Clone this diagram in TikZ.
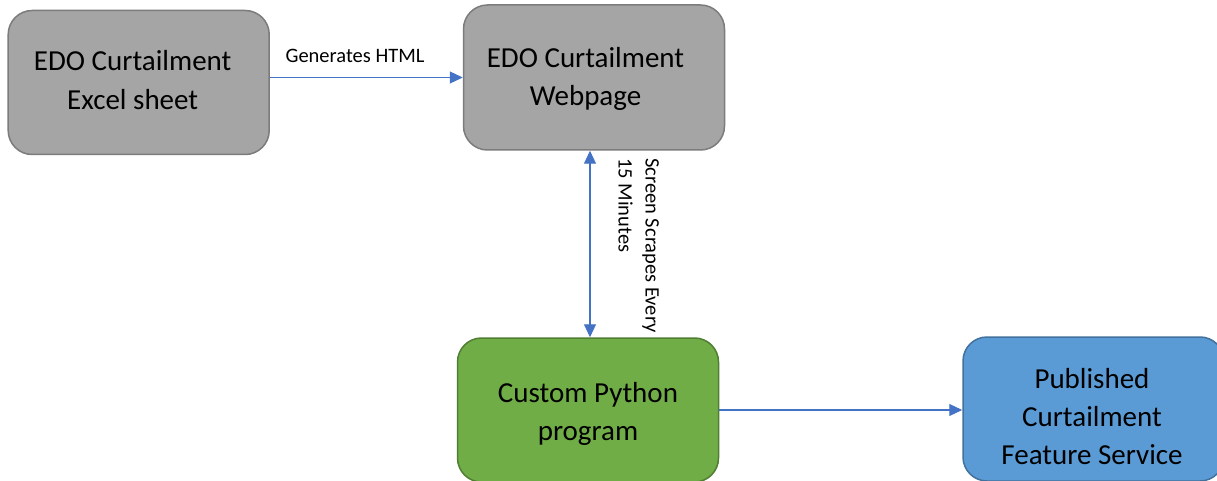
\documentclass[tikz,border=0pt]{standalone}
\usepackage{fontspec}
\setmainfont{Carlito}
\usetikzlibrary{arrows.meta}
\definecolor{grayfill}{HTML}{A5A5A5}
\definecolor{graydraw}{HTML}{7C7C7C}
\definecolor{greenfill}{HTML}{70AD47}
\definecolor{greendraw}{HTML}{507E32}
\definecolor{bluefill}{HTML}{5B9BD5}
\definecolor{bluedraw}{HTML}{41719C}
\definecolor{arrowblue}{HTML}{4472C4}
\tikzset{
  box/.style={rectangle, rounded corners=24pt, line width=1.5pt, minimum width=261pt,
    minimum height=144pt, inner sep=0pt},
  boxtext/.style={align=center, inner sep=0pt, font=\fontsize{29}{38.3}\selectfont, text=black},
  graybox/.style={box, fill=grayfill, draw=graydraw},
  greenbox/.style={box, fill=greenfill, draw=greendraw},
  bluebox/.style={box, fill=bluefill, draw=bluedraw},
  conn/.style={draw=arrowblue, line width=1.1pt, -{Triangle[width=12pt,length=13pt]}},
  conn2/.style={draw=arrowblue, line width=1.1pt, {Triangle[width=12pt,length=13pt]}-{Triangle[width=12pt,length=13pt]}},
  lbl/.style={font=\fontsize{20.5}{27}\selectfont, inner sep=0pt, text=black}
}
\begin{document}
\begin{tikzpicture}[x=1pt, y=-1pt]
\clip (0,0) rectangle (1217,481);
\fill[white] (0,0) rectangle (1217,481);
\node[graybox] (b1) at (138.7,82.5) {};
\node[boxtext] (b1t) at ([xshift=-6pt,yshift=2.5pt]b1.center) {EDO Curtailment\\Excel sheet};
\node[graybox, minimum height=145pt] (b2) at (594,77.5) {};
\node[boxtext] (b2t) at ([xshift=-8.5pt,yshift=-1.5pt]b2.center) {EDO Curtailment\\Webpage};
\node[greenbox] (b3) at (588,410) {};
\node[boxtext] (b3t) at ([yshift=-4pt]b3.center) {Custom Python\\program};
\node[bluebox] (b4) at (1093.5,409) {};
\node[boxtext] (b4t) at ([xshift=-1.5pt,yshift=-7.5pt]b4.center) {Published\\Curtailment\\Feature Service};
\draw[conn] (b1.east |- b2.west) -- (b2.west);
\node[lbl, anchor=base] (l1) at (355,63) {Generates HTML};
\coordinate (vtop) at ([xshift=-4pt]b2.south);
\draw[conn2] (vtop) -- (vtop |- b3.north);
\node[lbl, rotate=-90, anchor=north west, align=left] (l2) at (659,158) {Screen Scrapes Every\\15 Minutes};
\draw[conn] (b3.east) -- (b4.west |- b3.east);
\end{tikzpicture}
\end{document}
